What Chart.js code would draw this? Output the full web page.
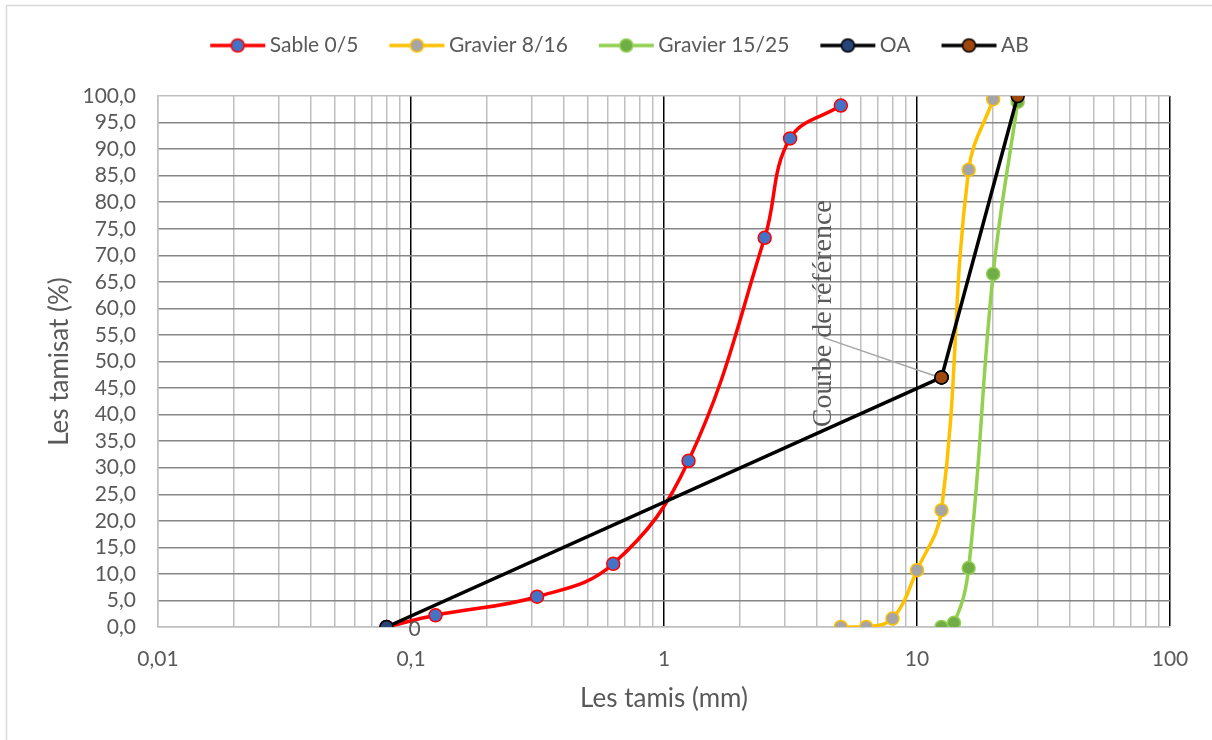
<!DOCTYPE html>
<html>
<head>
<meta charset="utf-8">
<script src="https://cdn.jsdelivr.net/npm/chart.js@4/dist/chart.umd.min.js"></script>
<style>
  html,body{margin:0;padding:0;background:#fff;}
  #wrap{position:relative;width:1212px;height:740px;}
</style>
</head>
<body>
<div id="wrap"><canvas id="c" width="1212" height="740"></canvas></div>
<script>
// ---- data ----
const sableX = [0.08, 0.125, 0.315, 0.63, 1.25, 2.5, 3.15, 5];
const sableY = [0, 2.2, 5.7, 11.9, 31.3, 73.3, 92.0, 98.2];
const grav816X = [5, 6.3, 8, 10, 12.5, 16, 20];
const grav816Y = [0, 0, 1.6, 10.7, 22.0, 86.1, 99.4];
const grav1525X = [12.5, 14, 16, 20, 25];
const grav1525Y = [0, 0.8, 11.1, 66.5, 98.9];
const oaX = [0.08, 12.5];
const oaY = [0, 47.0];
const abX = [12.5, 25];
const abY = [47.0, 100];
const seriesNames = ['Sable 0/5', 'Gravier 8/16', 'Gravier 15/25', 'OA', 'AB'];
const xMajorTicks = [0.01, 0.1, 1, 10, 100];
const xTickLabels = ['0,01', '0,1', '1', '10', '100'];
const annotationText = 'Courbe de référence';
const originLabel = '0';

const pts = (xs, ys) => xs.map((x, i) => ({x: x, y: ys[i]}));

// minor grid positions (2..9 within each decade)
const xGridValues = [];
for (let d = 0; d < xMajorTicks.length; d++) {
  xGridValues.push(xMajorTicks[d]);
  if (d < xMajorTicks.length - 1) {
    for (let k = 2; k <= 9; k++) xGridValues.push(+(xMajorTicks[d] * k).toPrecision(6));
  }
}

const FONT = 'Lato';
const TXT = '#595959';

function legendIcon(line, fill, border) {
  const c = document.createElement('canvas');
  c.width = 70; c.height = 18;
  const g = c.getContext('2d');
  g.strokeStyle = line; g.lineWidth = 3.5; g.lineCap = 'butt';
  g.beginPath(); g.moveTo(14, 9); g.lineTo(69, 9); g.stroke();
  g.beginPath(); g.arc(41.5, 9, 6.5, 0, Math.PI * 2);
  g.fillStyle = fill; g.fill();
  g.lineWidth = 1.5; g.strokeStyle = border; g.stroke();
  return c;
}

const styles = [
  {line: '#FF0000', fill: '#4472C4', border: '#FF0000'},
  {line: '#FFC000', fill: '#A5A5A5', border: '#FFC000'},
  {line: '#92D050', fill: '#70AD47', border: '#92D050'},
  {line: '#000000', fill: '#264478', border: '#000000'},
  {line: '#000000', fill: '#9E480E', border: '#000000'}
];
const dataSets = [pts(sableX, sableY), pts(grav816X, grav816Y), pts(grav1525X, grav1525Y), pts(oaX, oaY), pts(abX, abY)];
const tensions = [0.4, 0.4, 0.4, 0, 0];

const datasets = dataSets.map((d, i) => ({
  label: seriesNames[i],
  data: d,
  borderColor: styles[i].line,
  backgroundColor: styles[i].fill,
  pointBackgroundColor: styles[i].fill,
  pointBorderColor: styles[i].border,
  pointBorderWidth: 1.5,
  pointRadius: 6.5,
  pointHoverRadius: 6.5,
  borderWidth: 3.5,
  tension: tensions[i],
  fill: false,
  order: 5 - i
}));

const icons = styles.map(s => legendIcon(s.line, s.fill, s.border));

const legendFit = {
  id: 'legendFit',
  beforeLayout(chart) {
    const lg = chart.legend;
    if (lg && !lg._patched) {
      const f = lg.fit;
      lg.fit = function () { f.call(this); this.height = 85; };
      lg._patched = true;
    }
  },
  afterLayout(chart) {
    const lg = chart.legend;
    if (lg) { lg.left += 31; lg.right += 31; }
  }
};

const extras = {
  id: 'extras',
  beforeDraw(chart) {
    const ctx = chart.ctx;
    ctx.save();
    ctx.fillStyle = '#fff';
    ctx.fillRect(0, 0, chart.width, chart.height);
    ctx.strokeStyle = '#d9d9d9';
    ctx.lineWidth = 1.5;
    ctx.strokeRect(6.5, 5.5, chart.width + 10, chart.height + 10);
    ctx.restore();
  },
  afterDatasetsDraw(chart) {
    const ctx = chart.ctx;
    const xs = chart.scales.x, ys = chart.scales.y;
    // leader line to point A
    const ax = xs.getPixelForValue(abX[0]);
    const ay = ys.getPixelForValue(abY[0]);
    const tx = ax - 118, ty = ys.getPixelForValue(54.5);
    ctx.save();
    ctx.strokeStyle = '#a6a6a6';
    ctx.lineWidth = 1.5;
    ctx.beginPath(); ctx.moveTo(tx, ty); ctx.lineTo(ax - 2, ay); ctx.stroke();
    // redraw point A on top of leader line
    const meta = chart.getDatasetMeta(4);
    meta.data[0].draw(ctx, chart.chartArea);
    // annotation text
    ctx.translate(tx, ys.getPixelForValue(59));
    ctx.rotate(-Math.PI / 2);
    ctx.font = '28px "Liberation Serif"';
    ctx.fillStyle = TXT;
    ctx.textAlign = 'center';
    ctx.textBaseline = 'middle';
    ctx.fillText(annotationText, 0, 0);
    ctx.restore();
    // data label "0" next to O
    const p = chart.getDatasetMeta(3).data[0];
    ctx.save();
    ctx.font = '21px ' + FONT;
    ctx.fillStyle = TXT;
    ctx.textAlign = 'center';
    ctx.textBaseline = 'middle';
    ctx.fillText(originLabel, p.x + 28, p.y + 2);
    ctx.restore();
  }
};

new Chart(document.getElementById('c'), {
  type: 'line',
  data: {datasets},
  plugins: [legendFit, extras],
  options: {
    responsive: false,
    animation: false,
    devicePixelRatio: 1,
    layout: {padding: {top: 11, right: 42, bottom: 10, left: 0}},
    plugins: {
      tooltip: {enabled: false},
      legend: {
        position: 'top',
        labels: {
          usePointStyle: true,
          pointStyleWidth: 56,
          boxHeight: 18,
          padding: 24,
          color: TXT,
          font: {family: FONT, size: 21},
          generateLabels(chart) {
            return chart.data.datasets.map((ds, i) => ({
              text: ds.label,
              pointStyle: icons[i],
              fillStyle: ds.backgroundColor,
              strokeStyle: ds.borderColor,
              lineWidth: 0,
              fontColor: TXT,
              hidden: false,
              datasetIndex: i
            }));
          }
        }
      }
    },
    scales: {
      x: {
        type: 'logarithmic',
        min: 0.01,
        max: 100,
        afterBuildTicks(scale) { scale.ticks = xGridValues.map(v => ({value: v})); },
        afterFit(scale) { scale.height = 103; },
        ticks: {
          autoSkip: false,
          maxRotation: 0,
          padding: 20,
          color: TXT,
          font: {family: FONT, size: 21},
          callback(v) {
            const idx = xMajorTicks.findIndex(m => Math.abs(m - v) < m * 1e-6);
            return idx >= 0 ? xTickLabels[idx] : '';
          }
        },
        grid: {
          drawTicks: false,
          color(ctx) {
            const v = ctx.tick ? ctx.tick.value : 0;
            if (Math.abs(v - 0.01) < 1e-9) return '#bfbfbf';
            return xMajorTicks.some(m => Math.abs(m - v) < m * 1e-6) ? '#000000' : '#c0c0c0';
          },
          lineWidth: 1.5
        },
        border: {display: true, color: '#bfbfbf', width: 1.5},
        title: {
          display: true,
          text: 'Les tamis (mm)',
          color: TXT,
          font: {family: FONT, size: 26},
          padding: {top: 4, bottom: 16}
        }
      },
      y: {
        type: 'linear',
        min: 0,
        max: 100,
        afterFit(scale) { scale.width = 158; },
        ticks: {
          stepSize: 5,
          autoSkip: false,
          padding: 22,
          color: TXT,
          font: {family: FONT, size: 21},
          callback(v) { return v.toFixed(1).replace('.', ','); }
        },
        grid: {
          drawTicks: false,
          color(ctx) {
            const v = ctx.tick ? ctx.tick.value : 0;
            return (v === 0 || v === 100) ? '#bfbfbf' : '#868686';
          },
          lineWidth: 1.5
        },
        border: {display: true, color: '#bfbfbf', width: 1.5},
        title: {
          display: true,
          text: 'Les tamisat (%)',
          color: TXT,
          font: {family: FONT, size: 26},
          padding: {top: 44, bottom: 0}
        }
      }
    }
  }
});
</script>
</body>
</html>
